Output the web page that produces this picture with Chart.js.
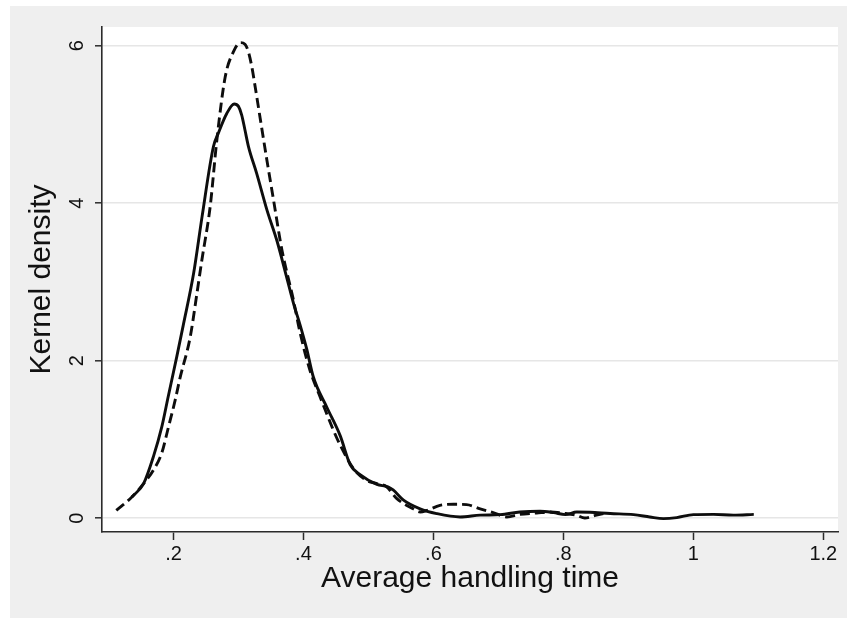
<!DOCTYPE html>
<html>
<head>
<meta charset="utf-8">
<script src="https://cdn.jsdelivr.net/npm/chart.js@4/dist/chart.umd.min.js"></script>
<style>
  html, body { margin: 0; padding: 0; background: #ffffff; overflow: hidden; }
  #c { display: block; }
</style>
</head>
<body>
<canvas id="c" width="847" height="618"></canvas>
<script>
// Kernel density estimates of average handling time (two groups)
const solidX = [0.136, 0.154, 0.169, 0.182, 0.192, 0.205, 0.215, 0.231, 0.244, 0.2615, 0.269, 0.282, 0.2934, 0.300, 0.305, 0.310, 0.3154, 0.328, 0.344, 0.359, 0.3745, 0.385, 0.395, 0.405, 0.415, 0.436, 0.4565, 0.472, 0.4877, 0.513, 0.530, 0.538, 0.554, 0.5795, 0.605, 0.641, 0.672, 0.703, 0.733, 0.764, 0.785, 0.803, 0.8206, 0.841, 0.872, 0.908, 0.933, 0.954, 0.9745, 1.0, 1.031, 1.0615, 1.093];
const solidY = [0.27, 0.44, 0.78, 1.16, 1.55, 2.05, 2.45, 3.11, 3.83, 4.72, 4.89, 5.14, 5.26, 5.23, 5.12, 4.93, 4.72, 4.38, 3.91, 3.53, 3.05, 2.72, 2.45, 2.15, 1.80, 1.41, 1.05, 0.68, 0.55, 0.43, 0.40, 0.36, 0.23, 0.12, 0.06, 0.017, 0.04, 0.047, 0.08, 0.09, 0.072, 0.047, 0.08, 0.076, 0.06, 0.047, 0.017, -0.004, 0.009, 0.047, 0.05, 0.04, 0.05];

const dashX = [0.112, 0.136, 0.154, 0.169, 0.182, 0.192, 0.2026, 0.210, 0.2257, 0.236, 0.2437, 0.2565, 0.2667, 0.2795, 0.292, 0.303, 0.310, 0.3154, 0.3206, 0.3257, 0.3334, 0.3437, 0.354, 0.3668, 0.3846, 0.395, 0.410, 0.4257, 0.446, 0.4565, 0.477, 0.4975, 0.513, 0.528, 0.5437, 0.569, 0.5795, 0.59, 0.610, 0.6308, 0.651, 0.672, 0.692, 0.713, 0.733, 0.759, 0.78, 0.80, 0.82, 0.833, 0.851, 0.8615];
const dashY = [0.10, 0.27, 0.44, 0.61, 0.83, 1.15, 1.50, 1.78, 2.30, 2.85, 3.28, 3.96, 4.80, 5.60, 5.92, 6.04, 6.02, 5.92, 5.73, 5.48, 5.08, 4.55, 4.04, 3.41, 2.77, 2.35, 1.88, 1.54, 1.12, 0.93, 0.63, 0.48, 0.44, 0.40, 0.25, 0.12, 0.08, 0.10, 0.165, 0.178, 0.174, 0.12, 0.072, 0.017, 0.05, 0.067, 0.08, 0.065, 0.04, 0.004, 0.04, 0.06];

const xTicks = [0.2, 0.4, 0.6, 0.8, 1.0, 1.2];
const xTickLabels = ['.2', '.4', '.6', '.8', '1', '1.2'];
const yTicks = [0, 2, 4, 6];
const yTickLabels = ['0', '2', '4', '6'];

const toPoints = (xs, ys) => xs.map((x, i) => ({ x: x, y: ys[i] }));

const FONT = "'Liberation Sans', Arial, Helvetica, sans-serif";
const AXIS_COLOR = '#2b2b2b';

// Paints the outer graph region and the white plot region
const backdrop = {
  id: 'backdrop',
  beforeDraw(chart) {
    const { ctx, chartArea: a } = chart;
    ctx.save();
    ctx.fillStyle = '#ffffff';
    ctx.fillRect(0, 0, chart.width, chart.height);
    ctx.fillStyle = '#efefef';
    ctx.fillRect(10, 6, chart.width - 10, chart.height - 6);
    ctx.fillStyle = '#ffffff';
    ctx.fillRect(a.left, a.top, a.right - a.left, a.bottom - a.top);
    ctx.restore();
  }
};

new Chart(document.getElementById('c'), {
  type: 'line',
  data: {
    datasets: [
      {
        label: 'solid',
        data: toPoints(solidX, solidY),
        borderColor: '#0d0d0d',
        borderWidth: 2.9,
        pointRadius: 0,
        fill: false,
        cubicInterpolationMode: 'monotone'
      },
      {
        label: 'dashed',
        data: toPoints(dashX, dashY),
        borderColor: '#0d0d0d',
        borderWidth: 2.9,
        borderDash: [10, 5],
        pointRadius: 0,
        fill: false,
        cubicInterpolationMode: 'monotone'
      }
    ]
  },
  options: {
    responsive: false,
    animation: false,
    layout: { padding: { left: 0, right: 9, top: 27, bottom: 0 } },
    plugins: {
      legend: { display: false },
      tooltip: { enabled: false }
    },
    scales: {
      x: {
        type: 'linear',
        min: 0.09,
        max: 1.2226,
        afterBuildTicks(scale) { scale.ticks = xTicks.map(v => ({ value: v })); },
        afterFit(scale) { scale.height = 86; },
        grid: {
          drawOnChartArea: false,
          drawTicks: true,
          tickLength: 8,
          tickWidth: 1.5,
          tickColor: AXIS_COLOR
        },
        border: { display: true, color: AXIS_COLOR, width: 1.6 },
        ticks: {
          font: { family: FONT, size: 20 },
          color: '#111111',
          padding: 2,
          maxRotation: 0,
          minRotation: 0,
          callback(value) {
            const i = xTicks.findIndex(t => Math.abs(t - value) < 1e-9);
            return i >= 0 ? xTickLabels[i] : '';
          }
        },
        title: {
          display: true,
          text: 'Average handling time',
          font: { family: FONT, size: 30 },
          color: '#111111',
          padding: { top: 0, bottom: 21 }
        }
      },
      y: {
        type: 'linear',
        min: -0.174,
        max: 6.238,
        afterBuildTicks(scale) { scale.ticks = yTicks.map(v => ({ value: v })); },
        afterFit(scale) { scale.width = 102; },
        grid: {
          drawOnChartArea: true,
          color: '#e6e6e6',
          lineWidth: 1.6,
          drawTicks: true,
          tickLength: 7,
          tickWidth: 1.5,
          tickColor: AXIS_COLOR
        },
        border: { display: true, color: AXIS_COLOR, width: 1.6 },
        ticks: {
          font: { family: FONT, size: 20 },
          color: '#111111',
          padding: 12,
          minRotation: 90,
          maxRotation: 90,
          crossAlign: 'center',
          callback(value) {
            const i = yTicks.findIndex(t => Math.abs(t - value) < 1e-9);
            return i >= 0 ? yTickLabels[i] : '';
          }
        },
        title: {
          display: true,
          text: 'Kernel density',
          font: { family: FONT, size: 30 },
          color: '#111111',
          padding: { top: 24, bottom: 0 }
        }
      }
    }
  },
  plugins: [backdrop]
});
</script>
</body>
</html>
